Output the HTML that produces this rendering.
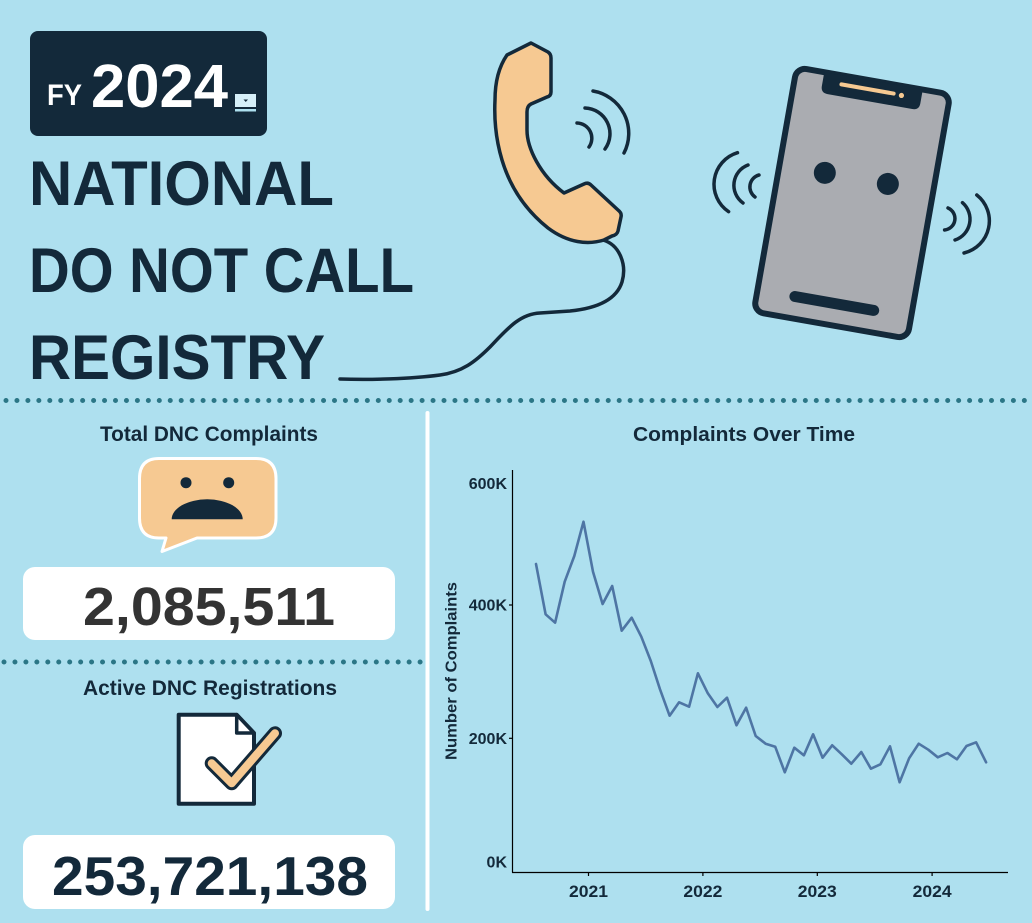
<!DOCTYPE html>
<html>
<head>
<meta charset="utf-8">
<style>
html,body{margin:0;padding:0;background:#aee0ef;}
svg{display:block;}
text{font-family:"Liberation Sans",sans-serif;font-weight:bold;}
</style>
</head>
<body>
<svg width="1032" height="923" viewBox="0 0 1032 923" xmlns="http://www.w3.org/2000/svg">
<rect x="0" y="0" width="1032" height="923" fill="#aee0ef"/>

<!-- FY badge -->
<rect x="30" y="31" width="237" height="105" rx="8" fill="#13293a"/>
<text x="47" y="105" font-size="30" fill="#ffffff" textLength="35" lengthAdjust="spacingAndGlyphs">FY</text>
<text x="91" y="107" font-size="61" fill="#ffffff" textLength="137" lengthAdjust="spacingAndGlyphs">2024</text>
<rect x="235" y="94" width="21" height="13" fill="#d6eff8"/>
<rect x="235" y="109" width="21" height="2.5" fill="#aee0ef"/>
<polygon points="243.5,99.5 248,99.5 245.75,102" fill="#13293a"/>

<!-- Title -->
<text x="29" y="205" font-size="63" fill="#13293a" textLength="305" lengthAdjust="spacingAndGlyphs">NATIONAL</text>
<text x="29" y="292" font-size="63" fill="#13293a" textLength="385" lengthAdjust="spacingAndGlyphs">DO NOT CALL</text>
<text x="29" y="379" font-size="63" fill="#13293a" textLength="296" lengthAdjust="spacingAndGlyphs">REGISTRY</text>

<!-- Handset cord -->
<path d="M603,240 C620,245 627,265 622,282 C617,298 600,308 570,311 L540,313 C520,314 508,328 490,347 C475,362 462,372 440,375 C410,379 370,380 340,379" fill="none" stroke="#13293a" stroke-width="3.5" stroke-linecap="round"/>
<!-- Handset -->
<path d="M507,55 L531,43 L548,52 Q551,54 551,58 L551,92 Q551,96 547,97 L531,104 Q527,106 527,112 L527,130 C527,148 540,175 564,193 L584,184 Q588,182 591,185 L618,210 Q622,213 621,217 L618,231 Q617,235 612,236 L604,240 C588,245 568,243 548,228 C528,212 511,190 502,160 C496,140 494,120 495,100 C495,85 498,68 507,55 Z" fill="#f6c992" stroke="#13293a" stroke-width="3.5" stroke-linejoin="round"/>
<!-- handset waves -->
<g fill="none" stroke="#13293a" stroke-width="3.5" stroke-linecap="round">
<path d="M577,123 A15.2,15.2 0 0 1 589,147"/>
<path d="M585,108 A25.8,25.8 0 0 1 605,149"/>
<path d="M593,91 A43,43 0 0 1 624,153"/>
</g>

<!-- Mobile phone waves -->
<g fill="none" stroke="#13293a" stroke-width="3.5" stroke-linecap="round">
<path d="M737.5,152.7 A33,33 0 0 0 728.6,211.7"/>
<path d="M748,165 A21.7,21.7 0 0 0 743,203"/>
<path d="M759,175 A12.4,12.4 0 0 0 755,197"/>
<path d="M948,208 A11.5,11.5 0 0 1 944.6,230"/>
<path d="M962.5,202.7 A21.9,21.9 0 0 1 955,240"/>
<path d="M976.8,195 A33,33 0 0 1 964,253"/>
</g>
<g transform="translate(852,203) rotate(10)">
<rect x="-78" y="-124" width="156" height="248" rx="10" fill="#aaacb1" stroke="#13293a" stroke-width="6"/>
<path d="M-50,-124 L-50,-110 Q-50,-103 -43,-103 L43,-103 Q50,-103 50,-110 L50,-124 Z" fill="#13293a"/>
<line x1="-31" y1="-115" x2="22" y2="-115" stroke="#f6c992" stroke-width="4" stroke-linecap="round"/>
<circle cx="30" cy="-114.5" r="2.6" fill="#f6c992"/>
<circle cx="-32" cy="-25" r="11" fill="#13293a"/>
<circle cx="32" cy="-25" r="11" fill="#13293a"/>
<line x1="-40" y1="102" x2="40" y2="102" stroke="#13293a" stroke-width="11" stroke-linecap="round"/>
</g>

<!-- Dotted separators -->
<line x1="6" y1="400.5" x2="1030" y2="400.5" stroke="#2b7686" stroke-width="5" stroke-linecap="round" stroke-dasharray="0 10.95"/>
<line x1="4" y1="662" x2="428" y2="662" stroke="#2b7686" stroke-width="5" stroke-linecap="round" stroke-dasharray="0 10.95"/>

<!-- Vertical white divider -->
<line x1="427.5" y1="413" x2="427.5" y2="909" stroke="#ffffff" stroke-width="4" stroke-linecap="round"/>

<!-- Total DNC Complaints -->
<text x="100" y="441" font-size="21" fill="#13293a" textLength="218" lengthAdjust="spacingAndGlyphs">Total DNC Complaints</text>
<path d="M159,458.5 H256 Q276,458.5 276,478.5 V518 Q276,538 256,538 H197 L162,551.5 L166,538 H159 Q139.5,538 139.5,518 V478.5 Q139.5,458.5 159,458.5 Z" fill="#f6c992" stroke="#ffffff" stroke-width="3" stroke-linejoin="round"/>
<circle cx="186" cy="482.7" r="5.5" fill="#13293a"/>
<circle cx="228.7" cy="482.7" r="5.5" fill="#13293a"/>
<path d="M171.7,519.3 A35.5,20 0 0 1 242.7,519.3 Z" fill="#13293a"/>
<rect x="23" y="567" width="372" height="73" rx="12" fill="#ffffff"/>
<text x="83" y="625" font-size="54" fill="#333333" textLength="252" lengthAdjust="spacingAndGlyphs">2,085,511</text>

<!-- Active DNC Registrations -->
<text x="83" y="695" font-size="21" fill="#13293a" textLength="254" lengthAdjust="spacingAndGlyphs">Active DNC Registrations</text>
<path d="M178.7,714.7 H236.7 L254,733 V803.7 H178.7 Z" fill="#ffffff" stroke="#13293a" stroke-width="4" stroke-linejoin="round"/>
<path d="M236.7,714.7 V733 H254 Z" fill="#ffffff" stroke="#13293a" stroke-width="3.5" stroke-linejoin="round"/>
<polyline points="211.7,763.3 231.7,783.3 275,733.3" fill="none" stroke="#13293a" stroke-width="14" stroke-linecap="round" stroke-linejoin="round"/>
<polyline points="211.7,763.3 231.7,783.3 275,733.3" fill="none" stroke="#f6c992" stroke-width="8" stroke-linecap="round" stroke-linejoin="round"/>
<rect x="23" y="835" width="372" height="74" rx="12" fill="#ffffff"/>
<text x="52" y="895" font-size="55" fill="#13293a" textLength="316" lengthAdjust="spacingAndGlyphs">253,721,138</text>

<!-- Chart -->
<text x="633" y="441" font-size="20" fill="#13293a" textLength="222" lengthAdjust="spacingAndGlyphs">Complaints Over Time</text>
<text transform="translate(456.5,671) rotate(-90)" text-anchor="middle" font-size="16" fill="#13293a" textLength="178" lengthAdjust="spacingAndGlyphs">Number of Complaints</text>

<g font-size="16" fill="#13293a" text-anchor="end">
<text x="507" y="489">600K</text>
<text x="507" y="610.5">400K</text>
<text x="507" y="744">200K</text>
<text x="507" y="867.5">0K</text>
</g>
<g stroke="#000" stroke-width="1.2">
<line x1="512.5" y1="470" x2="512.5" y2="872.5"/>
<line x1="512" y1="872.5" x2="1008" y2="872.5"/>
<line x1="509" y1="605" x2="512.5" y2="605"/>
<line x1="509" y1="738.3" x2="512.5" y2="738.3"/>
<line x1="588.5" y1="872.5" x2="588.5" y2="876"/>
<line x1="702.9" y1="872.5" x2="702.9" y2="876"/>
<line x1="817.3" y1="872.5" x2="817.3" y2="876"/>
<line x1="932.1" y1="872.5" x2="932.1" y2="876"/>
</g>
<g font-size="17" fill="#13293a" text-anchor="middle">
<text x="588.5" y="897" textLength="39" lengthAdjust="spacingAndGlyphs">2021</text>
<text x="702.9" y="897" textLength="39" lengthAdjust="spacingAndGlyphs">2022</text>
<text x="817.3" y="897" textLength="39" lengthAdjust="spacingAndGlyphs">2023</text>
<text x="932.1" y="897" textLength="39" lengthAdjust="spacingAndGlyphs">2024</text>
</g>
<polyline fill="none" stroke="#4e75a4" stroke-width="2.6" stroke-linejoin="round" stroke-linecap="round" points="536.0,564 545.6,614.3 555.1,622.7 564.7,581.7 574.3,556 583.5,521.7 593.0,571.7 602.6,604 612.2,586 621.7,630.7 631.7,617.7 641.3,636.7 650.8,661 660.0,689.3 669.6,715.7 679.1,702.3 689.1,706.7 697.9,673.3 707.8,693.3 717.4,707 727.0,697.7 736.5,725.3 746.1,707.7 755.7,736 765.6,743.7 775.2,746.7 784.8,772.3 794.3,747.7 803.9,755.3 813.1,734.3 822.6,757.7 832.2,745.3 841.8,754.3 851.3,763.7 861.3,752 870.9,768.7 880.4,764.3 890.0,746.3 899.6,782.3 909.1,758.3 918.7,743.7 928.3,749.7 937.8,757.3 947.4,753 957.0,759.3 966.5,746 976.1,742.3 986.1,762.3"/>
</svg>
</body>
</html>
